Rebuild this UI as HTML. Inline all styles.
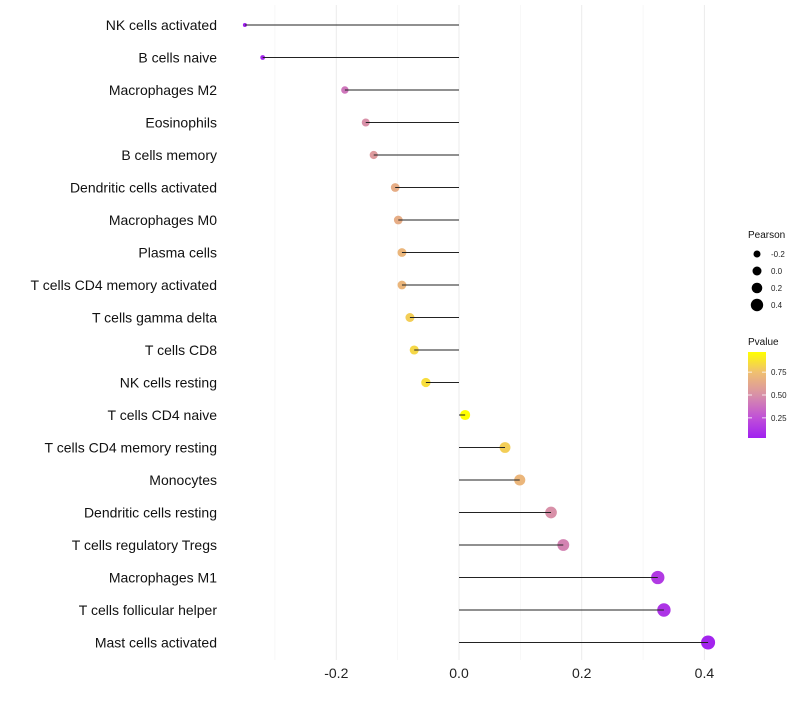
<!DOCTYPE html>
<html><head><meta charset="utf-8"><style>
body{margin:0;background:#fff;font-family:"Liberation Sans",sans-serif}
</style></head><body>
<svg id="chart" width="800" height="700" xmlns="http://www.w3.org/2000/svg" font-family="Liberation Sans, sans-serif"></svg>
<script>
const categories=["NK cells activated","B cells naive","Macrophages M2","Eosinophils","B cells memory","Dendritic cells activated","Macrophages M0","Plasma cells","T cells CD4 memory activated","T cells gamma delta","T cells CD8","NK cells resting","T cells CD4 naive","T cells CD4 memory resting","Monocytes","Dendritic cells resting","T cells regulatory  Tregs ","Macrophages M1","T cells follicular helper","Mast cells activated"];
const pearson=[-0.349,-0.32,-0.186,-0.152,-0.139,-0.104,-0.099,-0.093,-0.093,-0.08,-0.073,-0.054,0.01,0.075,0.099,0.15,0.17,0.324,0.334,0.406];
const pvalue=[0.03,0.05,0.4,0.5,0.55,0.65,0.65,0.7,0.7,0.8,0.83,0.85,0.97,0.8,0.7,0.5,0.45,0.15,0.12,0.05];
const xTicks=[-0.2,0,0.2,0.4];
const xMinor=[-0.3,-0.1,0.1,0.3];
const sizeLegend=[-0.2,0,0.2,0.4];
const pLegend=[0.25,0.5,0.75];

const svg=document.getElementById('chart');
const NS='http://www.w3.org/2000/svg';
const x=v=>459+v*613.5;
const y=i=>25+i*32.5;
const r=p=>Math.sqrt(Math.max(2,25+60*p));
const stops=[[0.03,[160,32,240]],[0.25,[192,80,216]],[0.5,[216,144,168]],[0.75,[240,192,112]],[0.97,[255,255,0]]];
function col(p){
  if(p<=stops[0][0])return 'rgb('+stops[0][1]+')';
  for(let k=1;k<stops.length;k++){if(p<=stops[k][0]){const a=stops[k-1],b=stops[k],t=(p-a[0])/(b[0]-a[0]);return 'rgb('+a[1].map((c,j)=>Math.round(c+(b[1][j]-c)*t))+')';}}
  return 'rgb('+stops[stops.length-1][1]+')';
}
function el(tag,attrs,parent){const e=document.createElementNS(NS,tag);for(const k in attrs)e.setAttribute(k,attrs[k]);(parent||svg).appendChild(e);return e;}
xMinor.forEach(v=>{const g=el('line',{x1:x(v),x2:x(v),y1:5,y2:660,stroke:'#f3f3f3','stroke-width':0.6});

});
xTicks.forEach(v=>{const g=el('line',{x1:x(v),x2:x(v),y1:5,y2:660,stroke:'#ebebeb','stroke-width':1});


const t=el('text',{x:x(v),y:678,'text-anchor':'middle','font-size':14,fill:'#222'});t.textContent=(v===0?'0.0':v.toFixed(1));

});
categories.forEach((c,i)=>{
  const t=el('text',{x:217,y:y(i)+5,'text-anchor':'end','font-size':14,fill:'#111'});t.textContent=c;
  
  
  const d=el('circle',{cx:x(pearson[i]),cy:y(i),r:r(pearson[i]),fill:col(pvalue[i])});
  
  
  const l=el('line',{x1:x(0),x2:x(pearson[i]),y1:y(i),y2:y(i),stroke:'#222','stroke-width':1});
  
  
});
const lt=el('text',{x:748,y:238,'font-size':10,fill:'#111'});lt.textContent='Pearson';


const lr=[3.5,4.5,5.3,6.2];
sizeLegend.forEach((v,k)=>{
  const c=el('circle',{cx:757,cy:254+k*17,r:lr[k],fill:'#000'});
  
  
  const t=el('text',{x:771,y:257+k*17,'font-size':8,fill:'#222'});t.textContent=(v===0?'0.0':v.toFixed(1));
  
  
});
const pt=el('text',{x:748,y:345,'font-size':10,fill:'#111'});pt.textContent='Pvalue';


const defs=el('defs',{});const lg=el('linearGradient',{id:'pg',x1:0,y1:1,x2:0,y2:0},defs);
stops.forEach(s=>el('stop',{offset:(s[0]-0.03)/0.94,'stop-color':'rgb('+s[1]+')'},lg));
const bar=el('rect',{x:748,y:352,width:18,height:86,fill:'url(#pg)'});


const py=p=>438-(p-0.03)/0.94*86;
pLegend.forEach(p=>{
  el('line',{x1:748,x2:752,y1:py(p),y2:py(p),stroke:'#fff','stroke-width':0.8});
  el('line',{x1:762,x2:766,y1:py(p),y2:py(p),stroke:'#fff','stroke-width':0.8});
  const t=el('text',{x:771,y:py(p)+3,'font-size':8,fill:'#222'});t.textContent=p.toFixed(2);
  
  
});
</script>
</body></html>
